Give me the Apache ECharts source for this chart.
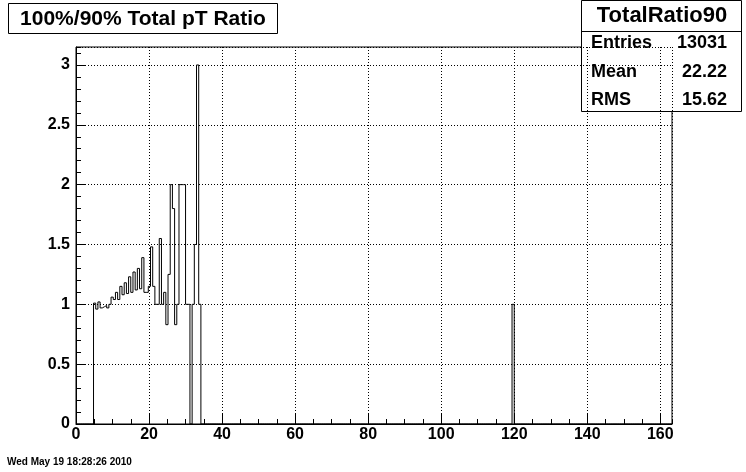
<!DOCTYPE html>
<html><head><meta charset="utf-8">
<script src="https://cdn.jsdelivr.net/npm/echarts@6/dist/echarts.min.js"></script>
<style>html,body{margin:0;padding:0;background:#fff}#c{width:746px;height:472px}</style>
</head><body><div id="c"></div>
<script>
// ---- data ----
const binWidth = 0.6;
const nBins = 272;
const clusterFirstBin = 8;
const clusterValues = [1.01, 0.96, 1.02, 0.97, 0.98, 0.99, 0.97, 1.0,
  1.06, 1.04, 1.10, 1.04, 1.15, 1.08, 1.18, 1.09, 1.23, 1.10, 1.27, 1.12, 1.30, 1.13,
  1.39, 1.10, 1.10, 1.15, 1.48, 1.15, 1.0, 1.0, 1.55, 1.0, 1.1, 0.83, 1.25,
  2.0, 1.8, 0.83, 1.0, 2.0, 2.0, 2.0, 1.0, 1.0, 0, 1.0, 1.5, 3.0, 1.0];
const spikeBins = [199];
const spikeValues = [1.0];
const xTickLabels = [0, 20, 40, 60, 80, 100, 120, 140, 160];
const yTickLabels = [0, 0.5, 1, 1.5, 2, 2.5, 3];
const titleText = '100%/90% Total pT Ratio';
const statsName = 'TotalRatio90';
const statsLabels = ['Entries', 'Mean', 'RMS'];
const statsValues = ['13031', '22.22', '15.62'];
const dateText = 'Wed May 19 18:28:26 2010';

// ---- build ----
const FONT = '"Liberation Sans", Arial, Helvetica, sans-serif';
function binValue(i) {
  const k = i - clusterFirstBin;
  if (k >= 0 && k < clusterValues.length) return clusterValues[k];
  const s = spikeBins.indexOf(i);
  if (s >= 0) return spikeValues[s];
  return 0;
}
const points = [];
for (let i = 0; i < nBins; i++) points.push([+(i * binWidth).toFixed(4), binValue(i)]);
points.push([+(nBins * binWidth).toFixed(4), 0]);
const xMax = +(nBins * binWidth).toFixed(4);
const yMax = 3.15;

const chart = echarts.init(document.getElementById('c'), null, {renderer: 'canvas'});
const black = '#000';
const labelStyle = {color: black, fontFamily: FONT, fontWeight: 'bold', fontSize: 16};
const statsRowsY = [43, 72, 100];
const graphics = [
  {type: 'rect', shape: {x: 8.5, y: 3.5, width: 269, height: 30}, style: {fill: '#fff', stroke: black, lineWidth: 1}},
  {type: 'text', x: 143, y: 19, style: {text: titleText, fill: black, font: 'bold 21px ' + FONT, textAlign: 'center', textVerticalAlign: 'middle'}},
  {type: 'rect', shape: {x: 581.5, y: 0.5, width: 160, height: 111}, style: {fill: '#fff', stroke: black, lineWidth: 1}},
  {type: 'line', shape: {x1: 581.5, y1: 31.5, x2: 741.5, y2: 31.5}, style: {stroke: black, lineWidth: 1}},
  {type: 'text', x: 662, y: 16, style: {text: statsName, fill: black, font: 'bold 22px ' + FONT, textAlign: 'center', textVerticalAlign: 'middle'}},
  {type: 'text', x: 7, y: 462, style: {text: dateText, fill: black, font: 'bold 10px ' + FONT, textAlign: 'left', textVerticalAlign: 'middle'}}
];
statsLabels.forEach((l, i) => {
  graphics.push({type: 'text', x: 591, y: statsRowsY[i], style: {text: l, fill: black, font: 'bold 18px ' + FONT, textAlign: 'left', textVerticalAlign: 'middle'}});
  graphics.push({type: 'text', x: 727, y: statsRowsY[i], style: {text: statsValues[i], fill: black, font: 'bold 18px ' + FONT, textAlign: 'right', textVerticalAlign: 'middle'}});
});

chart.setOption({
  animation: false,
  backgroundColor: '#fff',
  grid: {left: 76, right: 74, top: 47, bottom: 48, show: true, borderColor: black, borderWidth: 1, backgroundColor: 'transparent'},
  xAxis: [
    {type: 'value', min: 0, max: xMax, interval: 20, position: 'bottom',
     axisLine: {show: true, onZero: false, lineStyle: {color: black, width: 1}},
     axisTick: {show: true, inside: true, length: 10, lineStyle: {color: black}},
     axisLabel: {show: true, margin: 3, showMaxLabel: false, ...labelStyle,
       formatter: v => xTickLabels.indexOf(Math.round(v * 1000) / 1000) >= 0 ? String(Math.round(v)) : ''},
     splitLine: {show: true, lineStyle: {color: black, width: 1, type: [1, 2]}}},
    {type: 'value', min: 0, max: xMax, interval: 5, position: 'bottom',
     axisLine: {show: false}, axisLabel: {show: false}, splitLine: {show: false},
     axisTick: {show: true, inside: true, length: 5, lineStyle: {color: black}}}
  ],
  yAxis: [
    {type: 'value', min: 0, max: yMax, interval: 0.5, position: 'left',
     axisLine: {show: true, onZero: false, lineStyle: {color: black, width: 1}},
     axisTick: {show: true, inside: true, length: 10, lineStyle: {color: black}},
     axisLabel: {show: true, margin: 6, showMaxLabel: false, ...labelStyle,
       formatter: v => { const r = Math.round(v * 1000) / 1000; return yTickLabels.indexOf(r) >= 0 ? String(r) : ''; }},
     splitLine: {show: true, lineStyle: {color: black, width: 1, type: [1, 2]}}},
    {type: 'value', min: 0, max: yMax, interval: 0.1, position: 'left',
     axisLine: {show: false}, axisLabel: {show: false}, splitLine: {show: false},
     axisTick: {show: true, inside: true, length: 5, lineStyle: {color: black}}}
  ],
  series: [{
    type: 'line', step: 'end', data: points, xAxisIndex: 0, yAxisIndex: 0,
    symbol: 'none', showSymbol: false, clip: true,
    lineStyle: {color: black, width: 1}
  }],
  graphic: graphics
});
</script></body></html>
